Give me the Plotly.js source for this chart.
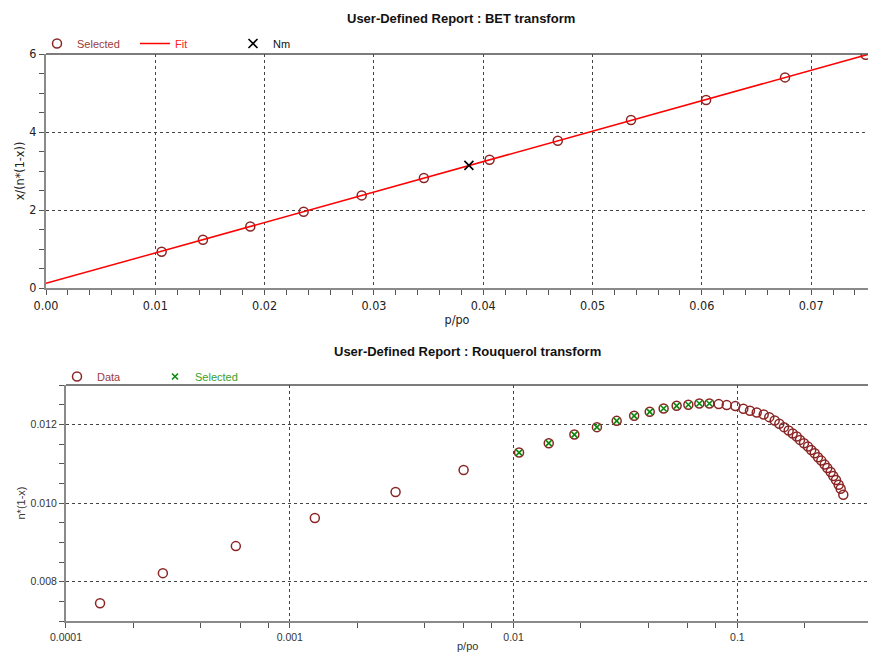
<!DOCTYPE html>
<html>
<head>
<meta charset="utf-8">
<script src="https://cdn.plot.ly/plotly-3.0.1.min.js"></script>
<style>
  html, body { margin: 0; padding: 0; background: #ffffff; }
  #chart { width: 869px; height: 655px; }
</style>
</head>
<body>
<div id="chart"></div>
<script>
// ---- BET transform (top) ----
const betX = [0.01058, 0.01436, 0.01869, 0.02357, 0.02888, 0.03457, 0.04058, 0.04682, 0.05352, 0.06039, 0.06761, 0.07498];
const betY = [0.931, 1.238, 1.579, 1.956, 2.374, 2.821, 3.29, 3.777, 4.308, 4.82, 5.40, 5.98];
const fitX = [0.0, 0.0752];
const fitY = [0.118, 5.99];
const nmX = [0.03869];
const nmY = [3.144];

// ---- Rouquerol transform (bottom) ----
const rouqDataX = [0.000142, 0.000271, 0.000574, 0.001294, 0.00297, 0.00598,
  0.01058, 0.01436, 0.01869, 0.02357, 0.02888, 0.03457, 0.04058, 0.04682, 0.05352, 0.06039, 0.06761, 0.07498,
  0.0825, 0.0896, 0.0979, 0.1063, 0.1138, 0.1220, 0.1311, 0.1388, 0.1468, 0.1539, 0.1615, 0.1695, 0.1766,
  0.1841, 0.1905, 0.1984, 0.2067, 0.2138, 0.2215, 0.2291, 0.2371, 0.2455, 0.2522, 0.2611, 0.2682, 0.2758,
  0.2836, 0.2894, 0.2973];
const rouqDataY = [0.00745, 0.008217, 0.008904, 0.009618, 0.01028, 0.01084,
  0.011282, 0.011521, 0.011740, 0.011929, 0.012089, 0.012217, 0.012318, 0.012403, 0.012471, 0.012497, 0.012530, 0.012530,
  0.012515, 0.012489, 0.012464, 0.012395, 0.012344, 0.012301, 0.012250, 0.012183, 0.012097, 0.012013, 0.011929, 0.011842, 0.011766,
  0.011689, 0.011605, 0.011521, 0.011434, 0.011350, 0.011266, 0.011164, 0.011078, 0.010976, 0.010892, 0.010790, 0.010688, 0.010586,
  0.010466, 0.010364, 0.010211];
const rouqSelX = [0.01058, 0.01436, 0.01869, 0.02357, 0.02888, 0.03457, 0.04058, 0.04682, 0.05352, 0.06039, 0.06761, 0.07498];
const rouqSelY = [0.011282, 0.011521, 0.011740, 0.011929, 0.012089, 0.012217, 0.012318, 0.012403, 0.012471, 0.012497, 0.012530, 0.012530];

// tick labels
const topXTickVals = [0, 0.01, 0.02, 0.03, 0.04, 0.05, 0.06, 0.07];
const topXTickText = ["0.00", "0.01", "0.02", "0.03", "0.04", "0.05", "0.06", "0.07"];
const logTickVals = [0.0001, 0.001, 0.01, 0.1];
const logTickText = ["0.0001", "0.001", "0.01", "0.1"];
const botYTickVals = [0.008, 0.010, 0.012];
const botYTickText = ["0.008", "0.010", "0.012"];

// minor log ticks at 2,4,6,8 per decade
const logMinor = [];
[0.0001, 0.001, 0.01, 0.1].forEach(d => [2, 4, 6, 8].forEach(m => logMinor.push(d * m)));

const darkRed = "#8b2525";
const narrow = "Liberation Sans Narrow, Arial Narrow, DejaVu Sans Condensed, sans-serif";
const sans = "Liberation Sans, Arial, sans-serif";
const axisGray = "#8a8a8a";
const gridCol = "#444444";

const traces = [
  { x: betX, y: betY, type: "scatter", mode: "markers", name: '<span style="color:#9a3b3b">Selected</span>',
    marker: { symbol: "circle-open", size: 9, color: darkRed, line: { width: 1.5, color: darkRed } },
    xaxis: "x", yaxis: "y", legend: "legend" },
  { x: fitX, y: fitY, type: "scatter", mode: "lines", name: '<span style="color:#ff2020">Fit</span>',
    line: { color: "#ff0000", width: 1.5 }, xaxis: "x", yaxis: "y", legend: "legend" },
  { x: nmX, y: nmY, type: "scatter", mode: "markers", name: '<span style="color:#111111">Nm</span>',
    marker: { symbol: "x-thin-open", size: 9, color: "#000000", line: { width: 1.6, color: "#000000" } },
    xaxis: "x", yaxis: "y", legend: "legend" },
  { x: rouqDataX, y: rouqDataY, type: "scatter", mode: "markers", name: '<span style="color:#9a3b3b">Data</span>',
    marker: { symbol: "circle-open", size: 9, color: darkRed, line: { width: 1.5, color: darkRed } },
    xaxis: "x2", yaxis: "y2", legend: "legend2" },
  { x: rouqSelX, y: rouqSelY, type: "scatter", mode: "markers", name: '<span style="color:#3a9e2a">Selected</span>',
    marker: { symbol: "x-thin-open", size: 6, color: "#0a8a0a", line: { width: 1.6, color: "#0a8a0a" } },
    xaxis: "x2", yaxis: "y2", legend: "legend2" }
];

const layout = {
  width: 869, height: 655,
  margin: { l: 46, r: 1, t: 54, b: 34, autoexpand: false },
  paper_bgcolor: "#ffffff", plot_bgcolor: "#ffffff",
  showlegend: true,
  xaxis: {
    domain: [0, 1], anchor: "y", range: [0, 0.0752],
    tickmode: "array", tickvals: topXTickVals, ticktext: topXTickText,
    ticks: "outside", ticklen: 5, tickcolor: "#555", tickwidth: 1,
    minor: { dtick: 0.002, tick0: 0, ticks: "outside", ticklen: 5, tickcolor: "#555", showgrid: false },
    showline: true, linecolor: axisGray, linewidth: 2,
    showgrid: true, gridcolor: gridCol, griddash: "dot", gridwidth: 1,
    zeroline: false, automargin: false,
    tickfont: { family: narrow, size: 12.5, color: "#222" },
    title: { text: "p/po", font: { family: narrow, size: 12.5, color: "#222" }, standoff: 3 }
  },
  yaxis: {
    domain: [0.5873, 1], anchor: "x", range: [0, 6],
    tickmode: "linear", tick0: 0, dtick: 2,
    ticks: "outside", ticklen: 5, tickcolor: "#555",
    minor: { dtick: 0.5, tick0: 0, ticks: "outside", ticklen: 5, tickcolor: "#555", showgrid: false },
    showline: true, linecolor: axisGray, linewidth: 2,
    showgrid: true, gridcolor: gridCol, griddash: "dot", gridwidth: 1,
    zeroline: false, automargin: false,
    tickfont: { family: narrow, size: 12.5, color: "#222" },
    title: { text: "x/(n*(1-x))", font: { family: narrow, size: 12.5, color: "#222" }, standoff: 2 }
  },
  xaxis2: {
    domain: [0.0243, 1], anchor: "y2", type: "log", range: [-4, -0.4164],
    tickmode: "array", tickvals: logTickVals, ticktext: logTickText,
    ticks: "outside", ticklen: 5, tickcolor: "#555",
    minor: { tickmode: "array", tickvals: logMinor, ticks: "outside", ticklen: 5, tickcolor: "#555", showgrid: false },
    showline: true, linecolor: axisGray, linewidth: 2,
    showgrid: true, gridcolor: gridCol, griddash: "dot", gridwidth: 1,
    zeroline: false, automargin: false,
    tickfont: { family: sans, size: 10.5, color: "#333" }
  },
  yaxis2: {
    domain: [0, 0.4162], anchor: "x2", range: [0.007, 0.013],
    tickmode: "array", tickvals: botYTickVals, ticktext: botYTickText,
    ticks: "outside", ticklen: 5, tickcolor: "#555",
    minor: { dtick: 0.0005, tick0: 0, ticks: "outside", ticklen: 5, tickcolor: "#555", showgrid: false },
    showline: true, linecolor: axisGray, linewidth: 2,
    showgrid: true, gridcolor: gridCol, griddash: "dot", gridwidth: 1,
    zeroline: false, automargin: false,
    tickfont: { family: sans, size: 10.5, color: "#333" },
    title: { text: "n*(1-x)", font: { family: sans, size: 11, color: "#333" }, standoff: 3 }
  },
  legend: {
    orientation: "h", xref: "container", yref: "container",
    x: 37 / 869, y: 1 - 29 / 655, xanchor: "left", yanchor: "top",
    entrywidth: 53, entrywidthmode: "pixels",
    font: { family: sans, size: 11 }, bgcolor: "rgba(0,0,0,0)", traceorder: "normal"
  },
  legend2: {
    orientation: "h", xref: "container", yref: "container",
    x: 57 / 869, y: 1 - 362 / 655, xanchor: "left", yanchor: "top",
    entrywidth: 53, entrywidthmode: "pixels",
    font: { family: sans, size: 11 }, bgcolor: "rgba(0,0,0,0)", traceorder: "normal"
  },
  annotations: [
    { text: "<b>User-Defined Report : BET transform</b>", xref: "paper", yref: "paper",
      x: 0.505, y: 1.062, xanchor: "center", yanchor: "middle", showarrow: false,
      font: { family: sans, size: 13, color: "#111" } },
    { text: "<b>User-Defined Report : Rouquerol transform</b>", xref: "paper", yref: "paper",
      x: 0.513, y: 0.475, xanchor: "center", yanchor: "middle", showarrow: false,
      font: { family: sans, size: 13, color: "#111" } },
    { text: "p/po", xref: "paper", yref: "paper",
      x: 0.513, y: -0.0436, xanchor: "center", yanchor: "middle", showarrow: false,
      font: { family: sans, size: 11, color: "#333" } }
  ],
  shapes: [
    { type: "line", xref: "x domain", yref: "y domain", x0: 0, x1: 1, y0: 1, y1: 1,
      line: { color: "#505050", width: 1.5 } },
    { type: "line", xref: "x2 domain", yref: "y2 domain", x0: 0, x1: 1, y0: 1, y1: 1,
      line: { color: "#505050", width: 1.5 } }
  ]
};

Plotly.newPlot("chart", traces, layout, { displayModeBar: false, staticPlot: true });
</script>
</body>
</html>
